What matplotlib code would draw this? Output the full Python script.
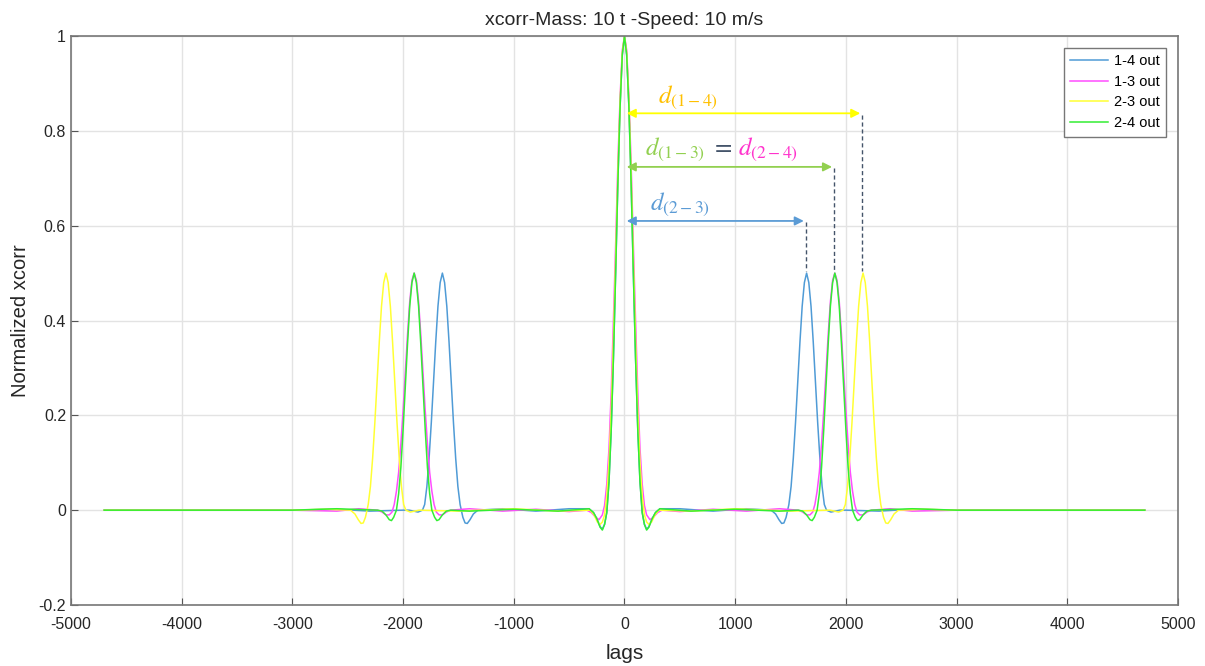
import matplotlib
matplotlib.use('Agg')
import matplotlib.pyplot as plt

plt.rcParams['font.family'] = ['Liberation Sans', 'DejaVu Sans']
plt.rcParams['mathtext.fontset'] = 'stix'
plt.rcParams['axes.unicode_minus'] = False

# 1-4 out (blue)
lags_14 = [-4700, -3000, -2600, -2300, -2000,
           -1945, -1865, -1825, -1805, -1785, -1765, -1745, -1725, -1705, -1685, -1665, -1645,
           -1625, -1605, -1585, -1565, -1545, -1525, -1505, -1485, -1460, -1440, -1420, -1395, -1365, -1325,
           -1100, -800, -500,
           -320, -280, -250, -220, -200, -180, -160, -140, -120, -100, -80, -60, -40, -20, 0,
           20, 40, 60, 80, 100, 120, 140, 160, 180, 200, 220, 250, 280, 320,
           500, 800, 1100,
           1325, 1365, 1395, 1420, 1440, 1460, 1485, 1505, 1525, 1545, 1565, 1585, 1605, 1625,
           1645, 1665, 1685, 1705, 1725, 1745, 1765, 1785, 1805, 1825, 1865, 1945,
           2000, 2300, 2600, 3000, 4700]
vals_14 = [0, 0, 0.002, -0.002, 0,
           0, -0.004, 0, 0.012, 0.05, 0.11, 0.185, 0.27, 0.355, 0.43, 0.48, 0.5,
           0.48, 0.43, 0.355, 0.27, 0.185, 0.11, 0.05, 0.012, -0.015, -0.027, -0.028, -0.02, -0.008, 0,
           0.003, -0.002, 0.003,
           0.003, -0.005, -0.018, -0.035, -0.04, -0.03, -0.005, 0.06, 0.17, 0.32, 0.5, 0.69, 0.85, 0.96, 1.0,
           0.96, 0.85, 0.69, 0.5, 0.32, 0.17, 0.06, -0.005, -0.03, -0.04, -0.035, -0.018, -0.005, 0.003,
           0.003, -0.002, 0.003,
           0, -0.008, -0.02, -0.028, -0.027, -0.015, 0.012, 0.05, 0.11, 0.185, 0.27, 0.355, 0.43, 0.48,
           0.5, 0.48, 0.43, 0.355, 0.27, 0.185, 0.11, 0.05, 0.012, 0, -0.004, 0,
           0, -0.002, 0.002, 0, 0]

# 1-3 out (magenta)
lags_13 = [-4700, -3000, -2600, -2400,
           -2230, -2190, -2155, -2125, -2100, -2080, -2060, -2040, -2020, -2000, -1980, -1960, -1940, -1920, -1900,
           -1880, -1860, -1840, -1820, -1800, -1780, -1760, -1740, -1720, -1700, -1675, -1645, -1610, -1570,
           -1400, -1100, -800, -500,
           -340, -300, -260, -230, -200, -180, -160, -140, -120, -100, -80, -60, -40, -20, 0,
           20, 40, 60, 80, 100, 120, 140, 160, 180, 200, 230, 260, 300, 340,
           500, 800, 1100, 1400,
           1570, 1610, 1645, 1675, 1700, 1720, 1740, 1760, 1780, 1800, 1820, 1840, 1860, 1880, 1900,
           1920, 1940, 1960, 1980, 2000, 2020, 2040, 2060, 2080, 2100, 2125, 2155, 2190, 2230,
           2400, 2600, 3000, 4700]
vals_13 = [0, 0, -0.002, 0.003,
           0, -0.004, -0.01, -0.01, -0.004, 0.012, 0.04, 0.08, 0.14, 0.21, 0.29, 0.37, 0.44, 0.485, 0.5,
           0.485, 0.44, 0.37, 0.29, 0.21, 0.14, 0.08, 0.04, 0.012, -0.004, -0.01, -0.01, -0.004, 0,
           0.003, -0.002, 0.002, -0.003,
           0, -0.005, -0.015, -0.02, -0.01, 0.01, 0.055, 0.13, 0.25, 0.4, 0.56, 0.73, 0.87, 0.97, 1.0,
           0.97, 0.87, 0.73, 0.56, 0.4, 0.25, 0.13, 0.055, 0.01, -0.01, -0.02, -0.015, -0.005, 0,
           -0.003, 0.002, -0.002, 0.003,
           0, -0.004, -0.01, -0.01, -0.004, 0.012, 0.04, 0.08, 0.14, 0.21, 0.29, 0.37, 0.44, 0.485, 0.5,
           0.485, 0.44, 0.37, 0.29, 0.21, 0.14, 0.08, 0.04, 0.012, -0.004, -0.01, -0.01, -0.004, 0,
           0.003, -0.002, 0, 0]

# 2-3 out (yellow)
lags_23 = [-4700, -3000, -2700,
           -2475, -2435, -2405, -2380, -2360, -2340, -2315, -2295, -2275, -2255, -2235, -2215, -2195, -2175, -2155,
           -2135, -2115, -2095, -2075, -2055, -2035, -2015, -1995, -1975, -1935, -1855,
           -1500, -1000, -600,
           -310, -275, -245, -220, -200, -180, -160, -140, -120, -100, -80, -60, -40, -20, 0,
           20, 40, 60, 80, 100, 120, 140, 160, 180, 200, 220, 245, 275, 310,
           600, 1000, 1500,
           1855, 1935, 1975, 1995, 2015, 2035, 2055, 2075, 2095, 2115, 2135, 2155,
           2175, 2195, 2215, 2235, 2255, 2275, 2295, 2315, 2340, 2360, 2380, 2405, 2435, 2475,
           2700, 3000, 4700]
vals_23 = [0, 0, 0.002,
           0, -0.008, -0.02, -0.028, -0.027, -0.015, 0.012, 0.05, 0.11, 0.185, 0.27, 0.355, 0.43, 0.48, 0.5,
           0.48, 0.43, 0.355, 0.27, 0.185, 0.11, 0.05, 0.012, 0, -0.004, 0,
           -0.002, 0.003, -0.002,
           0, -0.01, -0.025, -0.03, -0.025, -0.01, 0.03, 0.1, 0.21, 0.36, 0.53, 0.71, 0.86, 0.965, 1.0,
           0.965, 0.86, 0.71, 0.53, 0.36, 0.21, 0.1, 0.03, -0.01, -0.025, -0.03, -0.025, -0.01, 0,
           -0.002, 0.003, -0.002,
           0, -0.004, 0, 0.012, 0.05, 0.11, 0.185, 0.27, 0.355, 0.43, 0.48, 0.5,
           0.48, 0.43, 0.355, 0.27, 0.185, 0.11, 0.05, 0.012, -0.015, -0.027, -0.028, -0.02, -0.008, 0,
           0.002, 0, 0]

# 2-4 out (green)
lags_24 = [-4700, -3000, -2600,
           -2230, -2190, -2155, -2125, -2105, -2085, -2060, -2040, -2020, -2000, -1980, -1960, -1940, -1920, -1900,
           -1880, -1860, -1840, -1820, -1800, -1780, -1760, -1740, -1715, -1695, -1675, -1645, -1610, -1570,
           -1400, -1000, -600,
           -320, -280, -250, -220, -200, -180, -160, -140, -120, -100, -80, -60, -40, -20, 0,
           20, 40, 60, 80, 100, 120, 140, 160, 180, 200, 220, 250, 280, 320,
           600, 1000, 1400,
           1570, 1610, 1645, 1675, 1695, 1715, 1740, 1760, 1780, 1800, 1820, 1840, 1860, 1880, 1900,
           1920, 1940, 1960, 1980, 2000, 2020, 2040, 2060, 2085, 2105, 2125, 2155, 2190, 2230,
           2600, 3000, 4700]
vals_24 = [0, 0, 0.003,
           0, -0.002, -0.01, -0.02, -0.022, -0.015, 0, 0.035, 0.09, 0.17, 0.26, 0.35, 0.43, 0.48, 0.5,
           0.48, 0.43, 0.35, 0.26, 0.17, 0.09, 0.035, 0, -0.015, -0.022, -0.02, -0.01, -0.002, 0,
           -0.002, 0.002, -0.002,
           0.003, -0.005, -0.018, -0.036, -0.042, -0.03, -0.005, 0.06, 0.17, 0.32, 0.5, 0.69, 0.85, 0.96, 1.0,
           0.96, 0.85, 0.69, 0.5, 0.32, 0.17, 0.06, -0.005, -0.03, -0.042, -0.036, -0.018, -0.005, 0.003,
           -0.002, 0.002, -0.002,
           0, -0.002, -0.01, -0.02, -0.022, -0.015, 0, 0.035, 0.09, 0.17, 0.26, 0.35, 0.43, 0.48, 0.5,
           0.48, 0.43, 0.35, 0.26, 0.17, 0.09, 0.035, 0, -0.015, -0.022, -0.02, -0.01, -0.002, 0,
           0.003, 0, 0]

series_names = ['1-4 out', '1-3 out', '2-3 out', '2-4 out']
series_colors = ['#4f9bd6', '#ff4dff', '#ffff33', '#33ee33']

# distance annotations: peak lag, arrow height, colour
peak_lags = [2155, 1900, 1645]
arrow_y = [0.837, 0.724, 0.61]
arrow_colors = ['#ffff00', '#92d050', '#5b9bd5']

fig = plt.figure(figsize=(12.05, 6.66), dpi=100)
ax = fig.add_axes([0.0589, 0.0916, 0.9187, 0.8543])

all_lags = [lags_14, lags_13, lags_23, lags_24]
all_vals = [vals_14, vals_13, vals_23, vals_24]
for lg, vl, name, c in zip(all_lags, all_vals, series_names, series_colors):
    ax.plot(lg, vl, color=c, lw=1.1, label=name)

for pk, ay, c in zip(peak_lags, arrow_y, arrow_colors):
    ax.annotate('', xy=(pk - 25, ay), xytext=(20, ay),
                arrowprops=dict(arrowstyle='<|-|>', color=c, lw=1.3,
                                mutation_scale=13, shrinkA=0, shrinkB=0))
    ax.plot([pk - 8, pk - 8], [ay - 0.003, 0.505], ls=(0, (3, 2)), color='#44546a', lw=1.0)

ax.text(575, 0.872, r'$d_{(1-4)}$', color='#ffc000', fontsize=18, ha='center', va='center')
ax.text(185, 0.762, r'$d_{(1-3)}$', color='#92d050', fontsize=18, ha='left', va='center')
ax.text(880, 0.768, r'$=$', color='#44546a', fontsize=18, ha='center', va='center')
ax.text(1025, 0.762, r'$d_{(2-4)}$', color='#ff33cc', fontsize=18, ha='left', va='center')
ax.text(500, 0.645, r'$d_{(2-3)}$', color='#5b9bd5', fontsize=18, ha='center', va='center')

ax.set_xlim(-5000, 5000)
ax.set_ylim(-0.2, 1.0)
ax.set_xticks(range(-5000, 5001, 1000))
ax.set_yticks([-0.2, 0, 0.2, 0.4, 0.6, 0.8, 1.0])
ax.set_yticklabels(['-0.2', '0', '0.2', '0.4', '0.6', '0.8', '1'])
ax.grid(True, color='#e3e3e3', lw=1.0)
ax.set_axisbelow(True)
ax.tick_params(direction='in', length=5, labelsize=11.5, colors='#555555', labelcolor='#262626')
ax.tick_params(axis='x', pad=9)
for sp in ax.spines.values():
    sp.set_color('#777777')
    sp.set_linewidth(1.2)

ax.set_title('xcorr-Mass: 10 t -Speed: 10 m/s', fontsize=14, color='#262626', pad=8)
ax.set_xlabel('lags', fontsize=15, color='#262626', labelpad=8)
ax.set_ylabel('Normalized xcorr', fontsize=14.5, color='#262626', labelpad=6)

leg = ax.legend(loc='upper right', fontsize=10.5, frameon=True, fancybox=False,
                edgecolor='#777777', framealpha=1, borderaxespad=0.8,
                handlelength=2.6, handletextpad=0.4, labelspacing=0.45, borderpad=0.45)
leg.get_frame().set_linewidth(1.0)

fig.savefig('out.png', dpi=100)
